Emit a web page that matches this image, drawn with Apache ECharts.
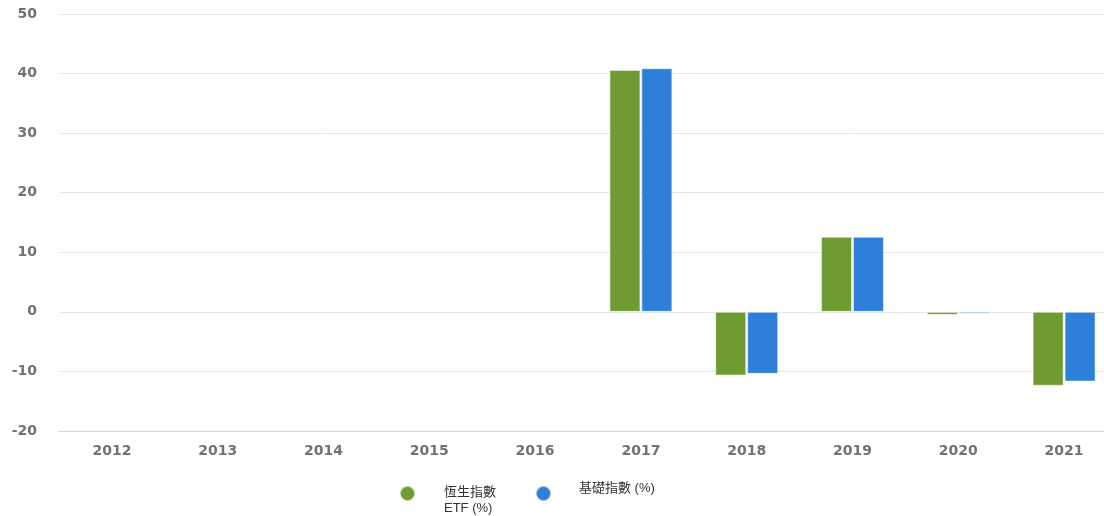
<!DOCTYPE html>
<html>
<head>
<meta charset="utf-8">
<script src="https://cdn.jsdelivr.net/npm/echarts@6/dist/echarts.min.js"></script>
<style>
  html, body { margin: 0; padding: 0; background: #fff; overflow: hidden; }
  #main { width: 1117px; height: 516px; }
</style>
</head>
<body>
<div id="main"></div>
<script>
// 年份 + 两组回报 (%)
var years = ['2012', '2013', '2014', '2015', '2016', '2017', '2018', '2019', '2020', '2021'];
var etfReturn = [null, null, null, null, null, 40.6, -10.7, 12.6, -0.5, -12.4];
var indexReturn = [null, null, null, null, null, 40.9, -10.4, 12.6, -0.3, -11.7];
var etfName = '恆生指數 ETF (%)';
var indexName = '基礎指數 (%)';

var chart = echarts.init(document.getElementById('main'));

var labelStyle = {
  fontFamily: 'DejaVu Sans',
  fontWeight: 'bold',
  fontSize: 14,
  color: '#727272'
};
var legendText = {
  fontFamily: 'Liberation Sans, Noto Sans CJK TC',
  fontSize: 13,
  color: '#333',
  rich: {
    t: { fontFamily: 'Liberation Sans, Noto Sans CJK TC', fontSize: 13, lineHeight: 16, color: '#333' },
    gapTop: { lineHeight: 14, fontSize: 1 },
    gapBot: { lineHeight: 10, fontSize: 1 }
  }
};

chart.setOption({
  animation: false,
  color: ['#6E9B32', '#2D7FDA'],
  grid: {
    left: 59,
    top: 14,
    right: 0,
    height: 417
  },
  legend: [{
    data: [etfName],
    left: 394,
    top: 472,
    icon: 'circle',
    itemWidth: 19,
    itemHeight: 15,
    formatter: function (name) {
      // 两行, 文字比图标低一点
      return '{gapTop| }\n{t|恆生指數}\n{t|ETF (%)}';
    },
    textStyle: Object.assign({ padding: [0, 0, 0, 22] }, legendText)
  }, {
    data: [indexName],
    left: 530,
    top: 477,
    icon: 'circle',
    itemWidth: 19,
    itemHeight: 15,
    formatter: function (name) {
      return '{t|' + name + '}\n{gapBot| }';
    },
    textStyle: Object.assign({ padding: [0, 0, 0, 21] }, legendText)
  }],
  xAxis: {
    type: 'category',
    data: years,
    axisLine: { onZero: false, lineStyle: { color: '#ccd6eb', width: 1 } },
    axisTick: { show: false },
    axisLabel: Object.assign({ margin: 13 }, labelStyle)
  },
  yAxis: {
    type: 'value',
    min: -20,
    max: 50,
    interval: 10,
    axisLine: { show: false },
    axisTick: { show: false },
    splitLine: { lineStyle: { color: '#e6e6e6', width: 1 } },
    axisLabel: Object.assign({ margin: 22 }, labelStyle)
  },
  series: [{
    name: etfName,
    type: 'bar',
    barWidth: 31,
    barGap: '3%',
    data: etfReturn,
    itemStyle: { borderColor: 'rgba(255,255,255,0.5)', borderWidth: 1 }
  }, {
    name: indexName,
    type: 'bar',
    barWidth: 31,
    data: indexReturn,
    itemStyle: { borderColor: 'rgba(255,255,255,0.5)', borderWidth: 1 }
  }]
});
</script>
</body>
</html>
